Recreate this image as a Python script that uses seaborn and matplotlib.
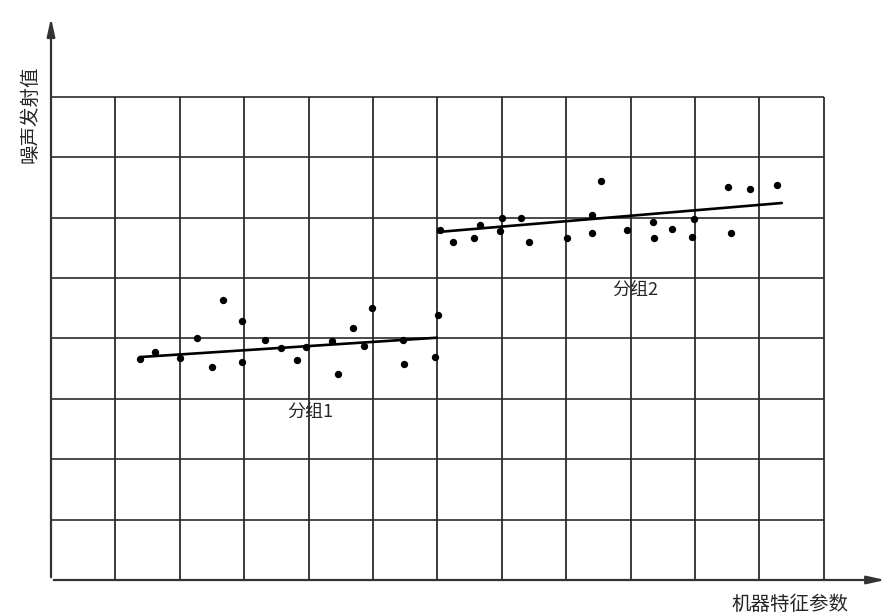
import numpy as np
import pandas as pd
import matplotlib
matplotlib.use('Agg')
import matplotlib.pyplot as plt
import seaborn as sns

# Scatter points (grid units)
g1_x = [1.38, 1.61, 2.00, 2.27, 2.50, 2.67, 2.97, 2.97, 3.32, 3.57, 3.82,
        3.96, 4.36, 4.46, 4.69, 4.86, 4.98, 5.47, 5.48, 5.96, 6.01]
g1_y = [3.66, 3.77, 3.68, 4.01, 3.53, 4.64, 4.29, 3.61, 3.97, 3.84, 3.64,
        3.86, 3.96, 3.41, 4.17, 3.87, 4.50, 3.97, 3.58, 3.69, 4.39]
g2_x = [6.04, 6.24, 6.57, 6.66, 6.97, 7.00, 7.30, 7.42, 8.01, 8.40, 8.40,
        8.54, 8.94, 9.35, 9.36, 9.64, 9.95, 9.98, 10.56, 10.51, 10.85, 11.27]
g2_y = [5.79, 5.60, 5.66, 5.88, 5.78, 5.99, 5.99, 5.60, 5.66, 5.75, 6.04,
        6.61, 5.79, 5.93, 5.66, 5.81, 5.68, 5.98, 5.75, 6.51, 6.47, 6.54]

# Fitted trend lines (end points)
fit1_x = [1.38, 5.99]
fit1_y = [3.69, 4.01]
fit2_x = [6.01, 11.35]
fit2_y = [5.76, 6.24]

group_labels = ['分组1', '分组2']
x_label = '机器特征参数'
y_label = '噪声发射值'

n_cols, n_rows = 12, 8

sns.set_theme(style='white')
plt.rcParams['font.family'] = ['Noto Sans CJK SC', 'DejaVu Sans']

fig = plt.figure(figsize=(8.9, 6.16), dpi=100)
ax = fig.add_axes([51 / 890, 36 / 616, 839 / 890, 580 / 616])
ax.set_xlim(0, 13.03)
ax.set_ylim(0, 9.6)
for s in ax.spines.values():
    s.set_visible(False)
ax.set_xticks([])
ax.set_yticks([])

# grid
ax.vlines(np.arange(1, n_cols + 1), 0, n_rows, color='#1a1a1a', lw=1.2)
ax.hlines(np.arange(1, n_rows + 1), 0, n_cols, color='#2a2a2a', lw=1.2)

# axes with arrows
arrow = dict(arrowstyle='-|>,head_length=0.9,head_width=0.2', color='#333333', lw=1.6)
ax.annotate('', xy=(13.0, 0), xytext=(0, 0), arrowprops=arrow)
ax.annotate('', xy=(0, 9.35), xytext=(0, 0), arrowprops=arrow)

pts = pd.DataFrame({'x': g1_x + g2_x, 'y': g1_y + g2_y,
                    'group': [group_labels[0]] * len(g1_x) + [group_labels[1]] * len(g2_x)})
sns.scatterplot(data=pts, x='x', y='y', color='black', s=28, linewidth=0,
                legend=False, ax=ax, zorder=3)

sns.lineplot(x=fit1_x, y=fit1_y, color='black', lw=1.9, ax=ax, zorder=4)
sns.lineplot(x=fit2_x, y=fit2_y, color='black', lw=1.9, ax=ax, zorder=4)

ax.text(4.02, 2.78, group_labels[0], fontsize=13, fontweight='medium',
        ha='center', va='center')
ax.text(9.07, 4.80, group_labels[1], fontsize=13, fontweight='medium',
        ha='center', va='center')

ax.set_xlabel('')
ax.set_ylabel('')
fig.text(790 / 890, 1 - 604 / 616, x_label, fontsize=14, fontweight='medium',
         ha='center', va='center')
fig.text(30 / 890, 1 - 114 / 616, y_label, fontsize=14, fontweight='medium',
         ha='center', va='center', rotation=90)

fig.savefig('out.png', dpi=100)
